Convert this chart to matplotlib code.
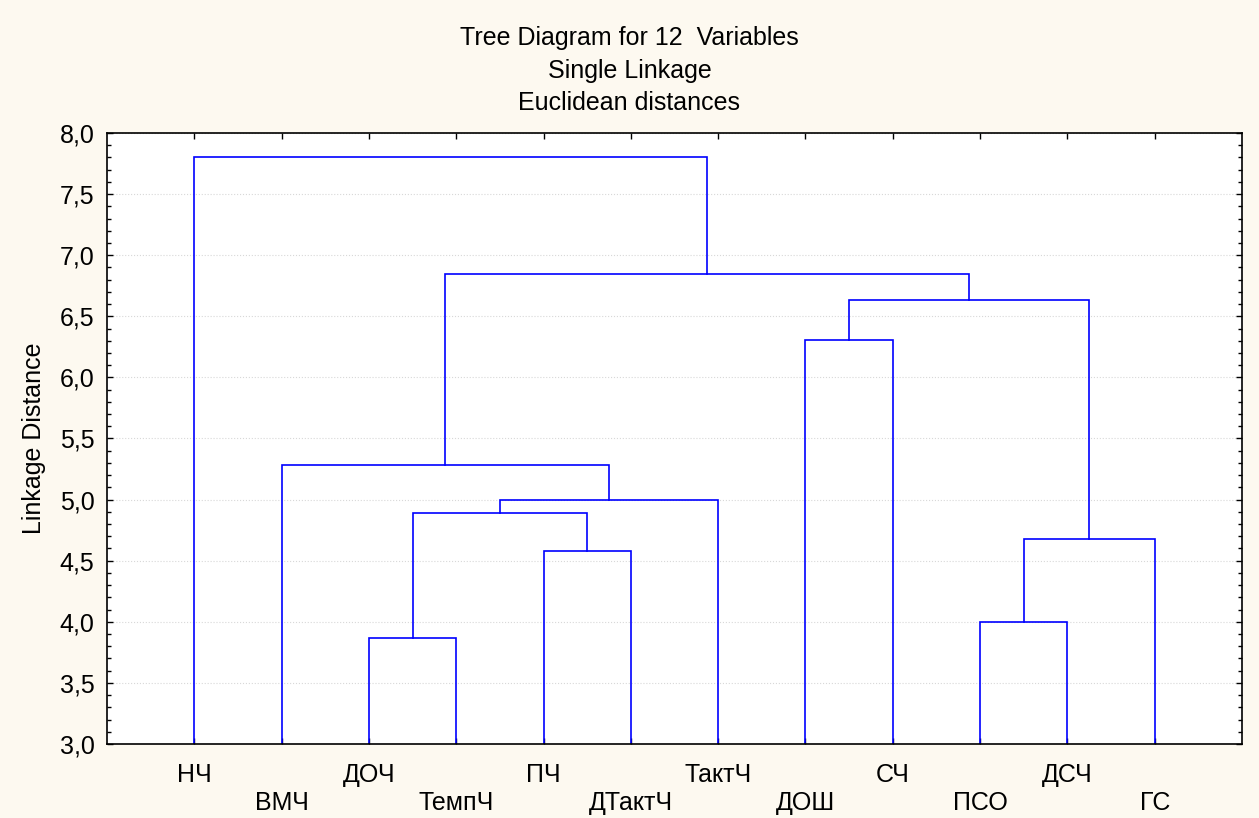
import matplotlib.pyplot as plt
from matplotlib.ticker import MultipleLocator

plt.rcParams['font.family'] = ['Liberation Sans', 'DejaVu Sans']

# leaf order along the x axis
labels = ['НЧ', 'ВМЧ', 'ДОЧ', 'ТемпЧ', 'ПЧ', 'ДТактЧ', 'ТактЧ',
          'ДОШ', 'СЧ', 'ПСО', 'ДСЧ', 'ГС']

# merges: cluster ids 0..11 are leaves, new clusters numbered from 12
merge_left = [2, 9, 4, 13, 12, 16, 1, 7, 19, 18, 0]
merge_right = [3, 10, 5, 11, 14, 6, 17, 8, 15, 20, 21]
merge_dist = [3.87, 4.00, 4.58, 4.68, 4.89, 5.00, 5.28, 6.31, 6.63, 6.85, 7.80]

line_color = '#0000ff'
bg_color = '#fdf9f0'
fs = 18

fig = plt.figure(figsize=(12.59, 8.18), dpi=100, facecolor=bg_color)
ax = fig.add_axes([0.085, 0.0905, 0.9015, 0.7469])
ax.set_facecolor('white')

# x position and height of every cluster
xpos = {i: i + 1 for i in range(len(labels))}
height = {i: 0.0 for i in range(len(labels))}

for k, (a, b, d) in enumerate(zip(merge_left, merge_right, merge_dist)):
    new_id = len(labels) + k
    xa, xb = xpos[a], xpos[b]
    ax.plot([xa, xa, xb, xb], [height[a], d, d, height[b]],
            color=line_color, lw=1.2, solid_joinstyle='miter')
    xpos[new_id] = (xa + xb) / 2
    height[new_id] = d

ax.set_xlim(0, len(labels) + 1)
ax.set_ylim(3.0, 8.0)

# staggered leaf labels in two rows
tick_text = [lab if i % 2 == 0 else '\n' + lab for i, lab in enumerate(labels)]
ax.set_xticks(range(1, len(labels) + 1))
ax.set_xticklabels(tick_text, fontsize=fs, va='top', linespacing=1.2)

ax.yaxis.set_major_locator(MultipleLocator(0.5))
ax.yaxis.set_minor_locator(MultipleLocator(0.1))
ax.set_yticklabels([f'{v:.1f}'.replace('.', ',') for v in ax.get_yticks()], fontsize=fs)

ax.tick_params(axis='both', which='both', direction='in', top=True, right=True,
               color='black', width=1.0)
ax.tick_params(axis='y', which='major', length=4, pad=9)
ax.tick_params(axis='y', which='minor', length=3)
ax.tick_params(axis='x', which='major', length=4, pad=14)
ax.tick_params(axis='x', which='minor', bottom=False, top=False)

ax.grid(axis='y', which='major', color='#d8d8d8', linestyle=':', linewidth=0.8)
ax.set_axisbelow(True)
for sp in ax.spines.values():
    sp.set_linewidth(1.2)

ax.set_ylabel('Linkage Distance', fontsize=fs, labelpad=10)

fig.text(0.5, 0.954, 'Tree Diagram for 12  Variables', ha='center', va='center', fontsize=fs)
fig.text(0.5, 0.913, 'Single Linkage', ha='center', va='center', fontsize=fs)
fig.text(0.5, 0.874, 'Euclidean distances', ha='center', va='center', fontsize=fs)

fig.savefig('out.png', dpi=100, facecolor=bg_color)
